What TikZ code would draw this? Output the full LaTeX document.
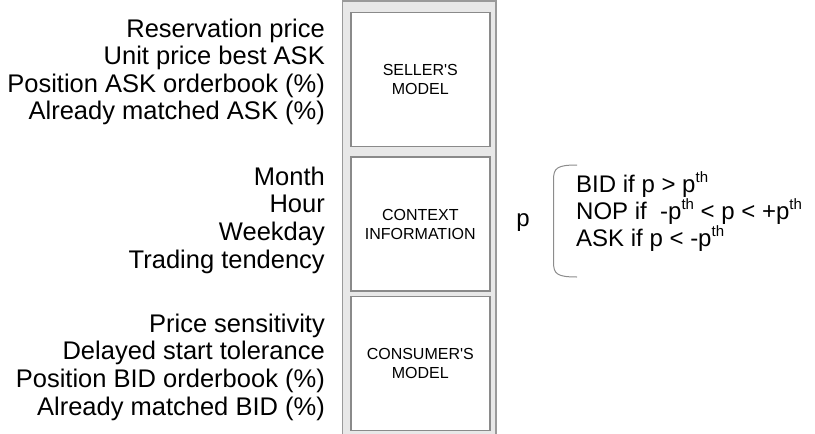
\documentclass[tikz,border=0pt]{standalone}
\usepackage{fontspec}
\setmainfont{Liberation Sans}[Ligatures=TeXOff]
\definecolor{colfill}{HTML}{E8E8E8}
\definecolor{colline}{HTML}{9A9A9A}
\definecolor{boxline}{HTML}{8A8A8A}
\definecolor{bracecol}{HTML}{8C8C8C}
\newcommand{\thsup}{\raisebox{10pt}{\fontsize{15}{15}\selectfont th}}
\tikzset{
  modelbox/.style={draw=boxline, fill=white, line width=1.4pt, minimum width=139pt, minimum height=134pt,
    align=center, inner sep=0pt, font=\fontsize{16}{19}\selectfont},
  feat/.style={anchor=base east, inner sep=0pt, font=\fontsize{25.5}{28}\selectfont},
  rule/.style={anchor=base west, inner sep=0pt, font=\fontsize{24}{26}\selectfont},
}
\begin{document}
\begin{tikzpicture}[x=1pt,y=-1pt]
\useasboundingbox (0,0) rectangle (815,434);
\clip (0,0) rectangle (815,434);
\draw[draw=colline, fill=colfill, line width=1.5pt] (342.5,1) rectangle (496,450);
\node[modelbox] (seller) at (420.3,79.5) {SELLER'S\\MODEL};
\node[modelbox] (context) at (420.3,224) {CONTEXT\\INFORMATION};
\node[modelbox] (consumer) at (420.3,363.5) {CONSUMER'S\\MODEL};
% seller features
\node[feat] (s1) at (325,37) {Reservation price};
\node[feat] (s2) at (325,64.5) {Unit price best ASK};
\node[feat] (s3) at (325,92) {Position ASK orderbook (\%)};
\node[feat] (s4) at (325,119.5) {Already matched ASK (\%)};
% context features
\node[feat] (c1) at (325,185) {Month};
\node[feat] (c2) at (325,212.7) {Hour};
\node[feat] (c3) at (325,240.4) {Weekday};
\node[feat] (c4) at (325,268) {Trading tendency};
% consumer features
\node[feat] (b1) at (325,332) {Price sensitivity};
\node[feat] (b2) at (325,359.7) {Delayed start tolerance};
\node[feat] (b3) at (325,387.4) {Position BID orderbook (\%)};
\node[feat] (b4) at (325,415) {Already matched BID (\%)};
% decision
\node[anchor=base, inner sep=0pt, font=\fontsize{24}{26}\selectfont] (p) at (523,226.5) {p};
\draw[bracecol, line width=1pt] (577,165) .. controls (557,165) and (553.5,168) .. (553.5,180)
  -- (553.5,262) .. controls (553.5,274) and (557,277) .. (577,277);
\node[rule] (r1) at (576,192.5) {BID if p > p\thsup};
\node[rule] (r2) at (576,219.5) {NOP if \ -p\thsup{} < p < +p\thsup};
\node[rule] (r3) at (576,246) {ASK if p < -p\thsup};
\end{tikzpicture}
\end{document}
